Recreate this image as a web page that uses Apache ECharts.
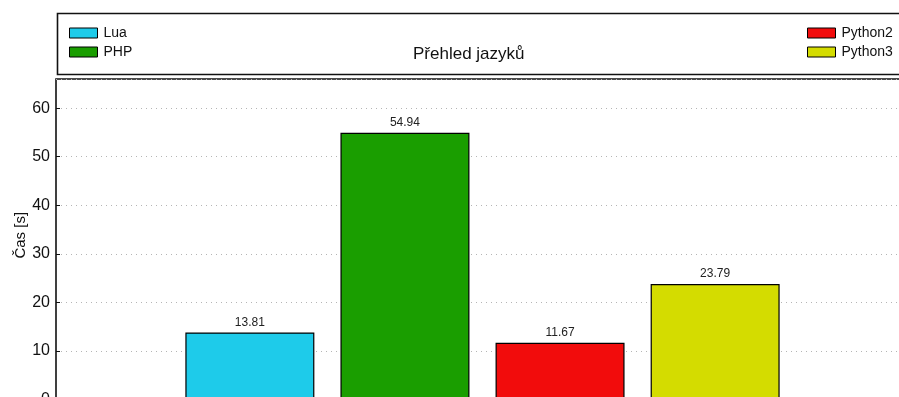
<!DOCTYPE html>
<html>
<head>
<meta charset="utf-8">
<script src="https://cdn.jsdelivr.net/npm/echarts@6/dist/echarts.min.js"></script>
<style>html,body{margin:0;padding:0;background:#fff}#c{width:899px;height:397px}</style>
</head>
<body>
<div id="c"></div>
<script>
var languages = ['Lua', 'PHP', 'Python2', 'Python3'];
var times = [13.81, 54.94, 11.67, 23.79];
var colors = ['#1ECBEA', '#1A9E00', '#F20C0C', '#D4DC00'];
var chartTitle = 'Přehled jazyků';
var yAxisName = 'Čas [s]';

var FONT = '"Liberation Sans", Arial, sans-serif';
var chart = echarts.init(document.getElementById('c'));

var series = languages.map(function (name, i) {
  return {
    name: name,
    type: 'bar',
    data: [[i, times[i]]],
    barWidth: 129,
    barGap: '-100%',
    itemStyle: { color: colors[i], borderColor: '#000', borderWidth: 1.2 },
    label: {
      show: true, position: 'top', distance: 4,
      fontFamily: FONT, fontSize: 12, color: '#222',
      formatter: function (p) { return p.value[1].toFixed(2); }
    }
  };
});

function legendCfg(names, left) {
  return {
    data: names, left: left, top: 21, orient: 'vertical',
    icon: 'rect', itemWidth: 28, itemHeight: 10, itemGap: 5,
    itemStyle: { borderColor: '#000', borderWidth: 1 },
    textStyle: { fontFamily: FONT, fontSize: 14, lineHeight: 11, color: '#111', padding: [0, 0, 0, 1] }
  };
}

chart.setOption({
  animation: false,
  textStyle: { fontFamily: FONT },
  title: {
    text: chartTitle, left: 408, top: 41,
    textStyle: { fontFamily: FONT, fontSize: 17, fontWeight: 'normal', color: '#111' }
  },
  legend: [legendCfg(languages.slice(0, 2), 64), legendCfg(languages.slice(2), 802)],
  graphic: [{
    type: 'rect', left: 55, top: 11, z: -1,
    shape: { width: 900, height: 61 },
    style: { fill: 'none', stroke: '#111', lineWidth: 1.6 }
  }],
  grid: {
    left: 56, top: 79, width: 853, height: 320.5,
    outerBoundsMode: 'none',
    show: true, borderColor: '#111', borderWidth: 1.6, containLabel: false
  },
  xAxis: {
    type: 'value', min: -1.25, max: 4.25, show: false
  },
  yAxis: {
    type: 'value', min: 0, max: 66, interval: 10,
    name: yAxisName, nameLocation: 'middle', nameGap: 28, nameMoveOverlap: false,
    nameTextStyle: { fontFamily: FONT, fontSize: 15, color: '#111', padding: [0, 0, 0, 8] },
    axisLine: { show: false, onZero: false },
    axisTick: { show: true, inside: true, length: 4, lineStyle: { color: '#111' } },
    axisLabel: { fontFamily: FONT, fontSize: 16, color: '#111', margin: 6, showMaxLabel: false },
    splitLine: { show: true, lineStyle: { color: '#b5b5b5', width: 1, type: [1, 4] } }
  },
  series: series
});
</script>
</body>
</html>
